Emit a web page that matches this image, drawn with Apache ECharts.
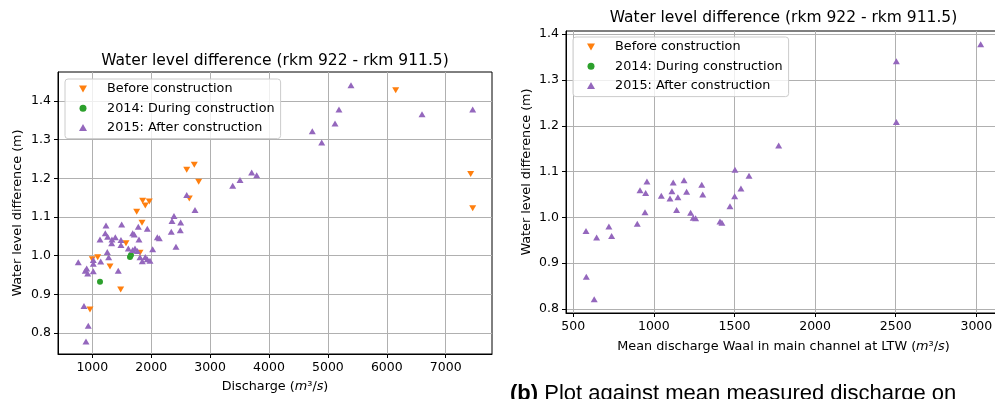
<!DOCTYPE html>
<html><head><meta charset="utf-8">
<script src="https://cdn.jsdelivr.net/npm/echarts@6/dist/echarts.min.js"></script>
<style>html,body{margin:0;padding:0;background:#fff}#c{width:995px;height:399px}</style>
</head><body><div id="c"></div>
<script>
// ---- data ----
const seriesNames = ['Before construction', '2014: During construction', '2015: After construction'];
const titleText = 'Water level difference (rkm 922 - rkm 911.5)';
const captionText = 'Plot against mean measured discharge on';

const xTicksLeft = [1000, 2000, 3000, 4000, 5000, 6000, 7000];
const yTicksLeft = [0.8, 0.9, 1.0, 1.1, 1.2, 1.3, 1.4];
const xTicksRight = [500, 1000, 1500, 2000, 2500, 3000];
const yTicksRight = [0.8, 0.9, 1.0, 1.1, 1.2, 1.3, 1.4];

const beforeQ = [961, 1000, 1092, 1301, 1482, 1572, 1754, 1810, 1844, 1855, 1900, 1968, 2603, 2647, 2732, 2806, 6151, 7424, 7458];
const beforeH = [0.861, 0.991, 0.996, 0.972, 0.913, 1.032, 1.114, 1.008, 1.085, 1.142, 1.130, 1.140, 1.222, 1.148, 1.235, 1.191, 1.428, 1.211, 1.123];

const duringQ = [1131, 1640, 1657];
const duringH = [0.933, 0.997, 1.002];

const afterQ = [762, 859, 881, 893, 905, 922, 932, 1017, 1017, 1017, 1131, 1143, 1221, 1233, 1255, 1261, 1278, 1329, 1334, 1391, 1441, 1487, 1487, 1499, 1612, 1686, 1686, 1713, 1725, 1765, 1781, 1793, 1810, 1849, 1900, 1934, 1934, 1980, 2025, 2104, 2138, 2341, 2353, 2387, 2421, 2494, 2501, 2603, 2744, 3384, 3508, 3706, 3791, 4735, 4895, 5121, 5188, 5392, 6598, 7458];
const afterH = [0.983, 0.870, 0.961, 0.778, 0.967, 0.954, 0.819, 0.989, 0.979, 0.960, 1.042, 0.985, 1.058, 1.078, 1.010, 1.049, 0.996, 1.032, 1.042, 1.048, 0.961, 1.041, 1.028, 1.081, 1.019, 1.058, 1.015, 1.055, 1.019, 1.012, 1.075, 1.042, 0.996, 0.986, 0.997, 1.070, 0.991, 0.987, 1.017, 1.048, 1.045, 1.062, 1.090, 1.103, 1.023, 1.066, 1.086, 1.157, 1.118, 1.181, 1.196, 1.215, 1.208, 1.322, 1.293, 1.342, 1.378, 1.441, 1.366, 1.378];

const ltwQ = [579, 581, 630, 645, 721, 738, 897, 914, 945, 949, 957, 1046, 1100, 1112, 1120, 1141, 1149, 1187, 1203, 1228, 1244, 1259, 1297, 1303, 1410, 1422, 1472, 1501, 1503, 1540, 1590, 1774, 2504, 2504, 3027];
const ltwH = [0.970, 0.870, 0.821, 0.956, 0.980, 0.959, 0.986, 1.059, 1.011, 1.053, 1.078, 1.047, 1.041, 1.057, 1.076, 1.016, 1.044, 1.081, 1.056, 1.010, 0.999, 0.998, 1.071, 1.050, 0.991, 0.988, 1.024, 1.046, 1.104, 1.063, 1.091, 1.157, 1.208, 1.341, 1.378];

// ---- chart ----
const FONT = 'DejaVu Sans';
const COLORS = ['#ff7f0e', '#2ca02c', '#9467bd'];
const zip = (a, b) => a.map((v, i) => [v, b[i]]);

const richName = {
  n: {fontFamily: FONT, fontSize: 12.8, color: '#000'},
  i: {fontFamily: FONT, fontSize: 12.8, color: '#000', fontStyle: 'italic'}
};

function axis(ticks, fmt, extra) {
  return Object.assign({
    type: 'value',
    axisLine: {show: true, onZero: false, lineStyle: {color: '#000', width: 1}},
    axisTick: {show: true, inside: false, length: 4, lineStyle: {color: '#000', width: 1}, customValues: ticks},
    axisLabel: {show: true, margin: 7, color: '#000', fontFamily: FONT, fontSize: 12.5, formatter: fmt, customValues: ticks},
    splitLine: {show: true, lineStyle: {color: '#b0b0b0', width: 1}},
    nameLocation: 'middle',
    nameTextStyle: {fontFamily: FONT, fontSize: 12.8, color: '#000', rich: richName}
  }, extra);
}
const fmtInt = v => String(Math.round(v));
const fmt1 = v => Number(v).toFixed(1);

const legendBase = {
  orient: 'vertical',
  padding: [3, 6, 4, 14],
  itemGap: 5.3,
  itemWidth: 8,
  itemHeight: 7,
  selectedMode: false,
  backgroundColor: 'rgba(255,255,255,0.8)',
  borderColor: '#cccccc',
  borderWidth: 1,
  borderRadius: 3,
  formatter: n => '{t|' + n + '}',
  textStyle: {
    fontFamily: FONT, fontSize: 12.8, color: '#000', lineHeight: 14,
    rich: {t: {fontFamily: FONT, fontSize: 12.8, color: '#000', padding: [0, 0, 0, 15]}}
  },
  data: [
    {name: seriesNames[0], icon: 'path://M0,0L2,0L1,1.7Z'},
    {name: seriesNames[1], icon: 'circle'},
    {name: seriesNames[2], icon: 'triangle'}
  ]
};

const option = {
  animation: false,
  color: COLORS,
  grid: [
    {left: 58, top: 72, width: 434, height: 282, show: true, borderColor: '#000', borderWidth: 1, backgroundColor: 'transparent',
      containLabel: false, outerBoundsMode: 'none'},
    {left: 566, top: 31, width: 435, height: 282, show: true, borderColor: '#000', borderWidth: 1, backgroundColor: 'transparent',
      containLabel: false, outerBoundsMode: 'none'}
  ],
  xAxis: [
    axis(xTicksLeft, fmtInt, {gridIndex: 0, min: 418, max: 7786, splitNumber: 7, nameGap: 26,
      name: '{n|Discharge (}{i|m}{n|³/}{i|s}{n|)}'}),
    axis(xTicksRight, fmtInt, {gridIndex: 1, min: 455, max: 3153, splitNumber: 5, nameGap: 27,
      name: '{n|Mean discharge Waal in main channel at LTW (}{i|m}{n|³/}{i|s}{n|)}'})
  ],
  yAxis: [
    axis(yTicksLeft, fmt1, {gridIndex: 0, min: 0.746, max: 1.475, splitNumber: 7, nameGap: 34,
      name: 'Water level difference (m)'}),
    axis(yTicksRight, fmt1, {gridIndex: 1, min: 0.791, max: 1.407, splitNumber: 6, nameGap: 33,
      name: 'Water level difference (m)'})
  ],
  legend: [
    Object.assign({}, legendBase, {left: 65, top: 79}),
    Object.assign({}, legendBase, {left: 573, top: 37})
  ],
  graphic: [
    {type: 'text', x: 275, y: 61, style: {text: titleText, x: 0, y: 0, align: 'center', verticalAlign: 'middle', fontFamily: FONT, fontSize: 15.5, fill: '#000'}},
    {type: 'text', x: 783.5, y: 18, style: {text: titleText, x: 0, y: 0, align: 'center', verticalAlign: 'middle', fontFamily: FONT, fontSize: 15.5, fill: '#000'}},
    {type: 'text', x: 510, y: 394, style: {text: '{b|(b)} ' + captionText, x: 0, y: 0, align: 'left', verticalAlign: 'middle',
      fontFamily: 'Liberation Sans', fontSize: 22, fill: '#000',
      rich: {b: {fontFamily: 'Liberation Sans', fontSize: 22, fontWeight: 'bold', fill: '#000'}}}}
  ],
  series: [
    {name: seriesNames[0], type: 'scatter', xAxisIndex: 0, yAxisIndex: 0, data: zip(beforeQ, beforeH),
      symbol: 'triangle', symbolRotate: 180, symbolSize: [7, 6], itemStyle: {color: COLORS[0], opacity: 1}},
    {name: seriesNames[1], type: 'scatter', xAxisIndex: 0, yAxisIndex: 0, data: zip(duringQ, duringH),
      symbol: 'circle', symbolSize: 6, itemStyle: {color: COLORS[1], opacity: 1}},
    {name: seriesNames[2], type: 'scatter', xAxisIndex: 0, yAxisIndex: 0, data: zip(afterQ, afterH),
      symbol: 'triangle', symbolSize: [7, 6], itemStyle: {color: COLORS[2], opacity: 1}},
    {name: seriesNames[2], type: 'scatter', xAxisIndex: 1, yAxisIndex: 1, data: zip(ltwQ, ltwH),
      symbol: 'triangle', symbolSize: [7, 6], itemStyle: {color: COLORS[2], opacity: 1}}
  ]
};
const chart = echarts.init(document.getElementById('c'), null, {renderer: 'canvas'});
chart.setOption(option);
</script></body></html>
